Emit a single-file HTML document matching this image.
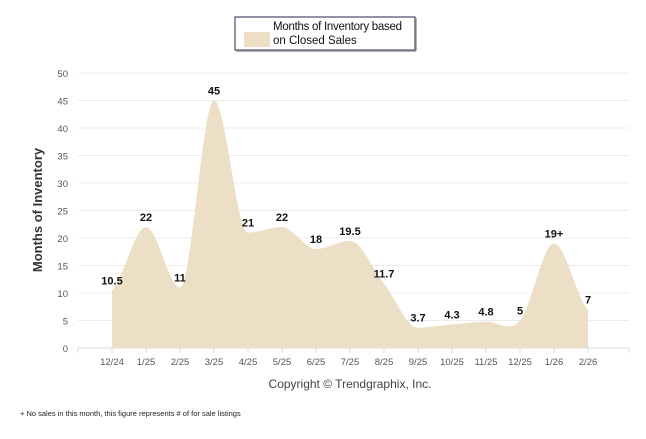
<!DOCTYPE html>
<html><head><meta charset="utf-8"><style>
body{margin:0;background:#fff;font-family:"Liberation Sans",sans-serif}
svg text{font-family:"Liberation Sans",sans-serif}
</style></head><body>
<svg id="c" width="646" height="434" xmlns="http://www.w3.org/2000/svg">
<g>
<rect x="235" y="17" width="180" height="33" fill="#fff" stroke="#1f2a4a" stroke-width="1"/>
<line x1="236" y1="51" x2="416" y2="51" stroke="#999" stroke-width="1.5"/>
<line x1="416" y1="18" x2="416" y2="51" stroke="#999" stroke-width="1.5"/>
<rect x="244" y="32" width="26" height="15" fill="#ecdfc6"/>
<text x="273" y="30" font-size="11.5" fill="#111" textLength="129">Months of Inventory based</text>
<text x="273" y="44" font-size="11.5" fill="#111">on Closed Sales</text>
</g>
<g id="grid"></g>
<path id="area" fill="#ecdfc6"/>
<g id="labels"></g>
<text transform="translate(42,210) rotate(-90)" text-anchor="middle" font-size="13" font-weight="bold" fill="#333">Months of Inventory</text>
<text x="350" y="388" text-anchor="middle" font-size="12" fill="#444">Copyright © Trendgraphix, Inc.</text>
<text x="20" y="416" font-size="7.5" fill="#222">+  No sales in this month, this figure represents # of for sale listings</text>
</svg>
<script>
const categories=["12/24","1/25","2/25","3/25","4/25","5/25","6/25","7/25","8/25","9/25","10/25","11/25","12/25","1/26","2/26"];
const values=[10.5,22,11,45,21,22,18,19.5,11.7,3.7,4.3,4.8,5,19,7];
const valueLabels=["10.5","22","11","45","21","22","18","19.5","11.7","3.7","4.3","4.8","5","19+","7"];
const yTicks=[0,5,10,15,20,25,30,35,40,45,50];
const NS="http://www.w3.org/2000/svg";
const X=i=>112+34*i, Y=v=>348-v*5.5;
const grid=document.getElementById('grid');
function mk(t,a,p){const e=document.createElementNS(NS,t);for(const k in a)e.setAttribute(k,a[k]);p.appendChild(e);return e;}
yTicks.forEach(v=>{
 const l=mk('line',{x1:78,x2:629,y1:Y(v),y2:Y(v),stroke:v===0?'#ddd':'#ececec'},grid);
 
 
 const t=mk('text',{x:68,y:Y(v)+4,'text-anchor':'end','font-size':9.5,fill:'#555'},grid);
 t.textContent=v;
 
 
});
for(let i=-1;i<=categories.length;i++){const tx=i<0?78:(i===categories.length?629:X(i));
 mk('line',{x1:tx,x2:tx,y1:348,y2:353,stroke:'#ddd'},grid);}
categories.forEach((c,i)=>{
 const t=mk('text',{x:X(i),y:365,'text-anchor':'middle','font-size':9.5,fill:'#555'},grid);
 t.textContent=c;
 
 
});
const pts=values.map((v,i)=>[X(i),Y(v)]);
let d=`M${pts[0][0]},348 L${pts[0][0]},${pts[0][1]}`;
for(let i=0;i<pts.length-1;i++){
 const p0=pts[i-1]||pts[i],p1=pts[i],p2=pts[i+1],p3=pts[i+2]||p2,k=1/6;
 let c1y=p1[1]+(p2[1]-p0[1])*k,c2y=p2[1]-(p3[1]-p1[1])*k;
 const ext=(a,b,c)=>(b-a)*(b-c)>0;
 if(i>0&&ext(p0[1],p1[1],p2[1]))c1y=p1[1];
 if(i+2<pts.length&&ext(p1[1],p2[1],p3[1]))c2y=p2[1];
 d+=` C${p1[0]+34/3},${c1y} ${p2[0]-34/3},${c2y} ${p2[0]},${p2[1]}`;
}
d+=` L${pts[pts.length-1][0]},348 Z`;
document.getElementById('area').setAttribute('d',d);
const lg=document.getElementById('labels');
values.forEach((v,i)=>{
 const t=mk('text',{x:X(i),y:Y(v)-6,'text-anchor':'middle','font-size':11,'font-weight':'bold',fill:'#111'},lg);
 t.textContent=valueLabels[i];
 
 
});
</script>
</body></html>
